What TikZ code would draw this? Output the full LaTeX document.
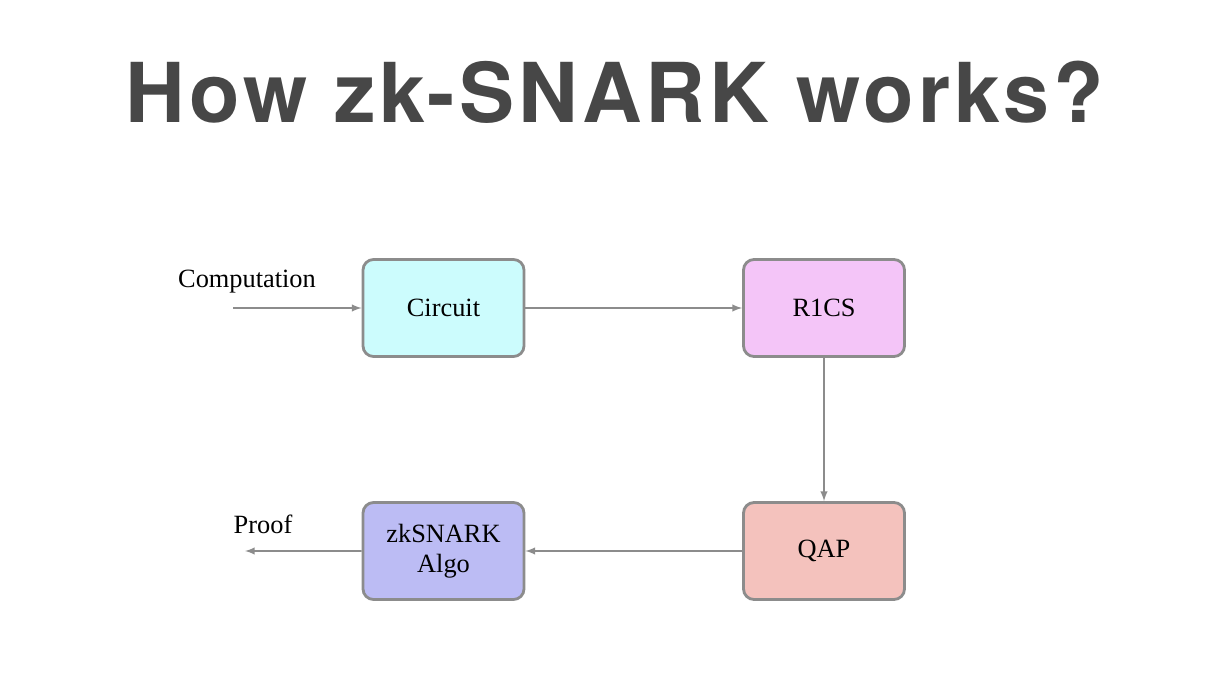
\documentclass[tikz,border=0pt]{standalone}
\usepackage{fontspec}
\setmainfont{Liberation Serif}
\newfontfamily\titlefont[LetterSpace=5]{TeX Gyre Heros}
\usetikzlibrary{positioning}
\definecolor{circuitC}{HTML}{CCFCFD}
\definecolor{rocsC}{HTML}{F4C5F8}
\definecolor{qapC}{HTML}{F4C2BD}
\definecolor{algoC}{HTML}{BCBCF4}
\definecolor{edgeC}{HTML}{8C8C8C}
\tikzset{
    stage/.style={draw=edgeC, line width=1.6pt, rounded corners=6pt, minimum width=3.22cm, minimum height=1.94cm, align=center, font=\fontsize{15}{17}\selectfont},
    flow/.style={draw=edgeC, line width=0.9pt, -latex},
    node distance=1.5
}
\begin{document}
\begin{tikzpicture}[on grid]
  \useasboundingbox (0,0) rectangle (24.6,-13.72);
  \node[font=\titlefont\bfseries\fontsize{47}{50}\selectfont, text=black!72] (title) at (12.3,-1.84) {How zk-SNARK works?};
  \node[stage, fill=circuitC] (circ) at (8.87,-6.16) {Circuit};
  \node[stage, fill=rocsC, right = 7.61cm of circ] (rocs) {R1CS};
  \node[stage, fill=qapC, below = 4.86cm of rocs] (qap) {QAP};
  \node[stage, fill=algoC, below = 4.86cm of circ] (algo) {zkSNARK\\Algo};
  \coordinate (in) at (4.66,-6.16);
  \coordinate (out) at (4.9,-11.02);
  \node[font=\fontsize{15}{17}\selectfont] (comp) at (4.94,-5.64) {Computation};
  \node[font=\fontsize{15}{17}\selectfont] (prf) at (5.26,-10.48) {Proof};

  \draw[flow] (in) -- (circ);
  \draw[flow] (circ) -- (rocs);
  \draw[flow] (rocs) -- (qap);
  \draw[flow] (qap) -- (algo);
  \draw[flow] (algo) -- (out);
\end{tikzpicture}
\end{document}
